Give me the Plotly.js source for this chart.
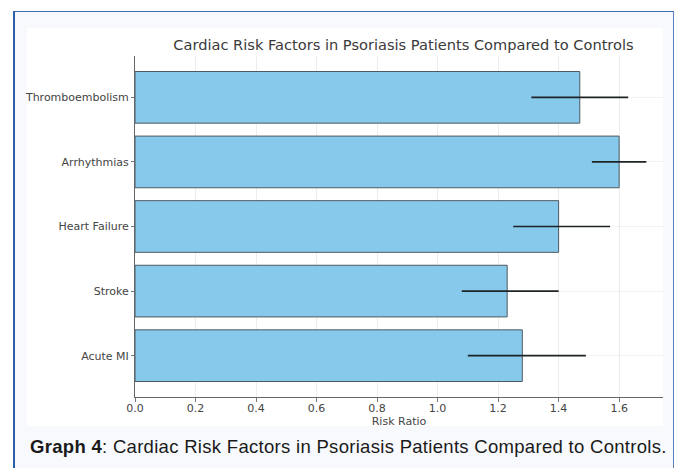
<!DOCTYPE html>
<html>
<head>
<meta charset="utf-8">
<script src="https://cdn.plot.ly/plotly-3.0.1.min.js"></script>
<style>
  html, body { margin: 0; padding: 0; background: #ffffff; width: 677px; height: 468px; overflow: hidden; }
  #frame { position: absolute; left: 13px; top: 11px; width: 658px; height: 470px;
           border-left: 2px solid #2c5ea7; border-top: 1px solid #3d6bb0; border-right: 1px solid #5b82bd;
           background: #f7f9fc; }
  #chartbg { position: absolute; left: 27px; top: 28px; width: 636px; height: 398px; background: #ffffff; }
  #plot { position: absolute; left: 0; top: 0; width: 677px; height: 468px; }
  #caption { position: absolute; left: 30px; top: 436px; font-family: "Liberation Sans", Arial, sans-serif;
             font-size: 18.5px; letter-spacing: 0.3px; color: #1a1a1a; white-space: nowrap; }
</style>
</head>
<body>
<div id="frame"></div>
<div id="chartbg"></div>
<div id="plot"></div>
<div id="caption"><b>Graph 4</b>: Cardiac Risk Factors in Psoriasis Patients Compared to Controls.</div>
<script>
const categories = ["Acute MI", "Stroke", "Heart Failure", "Arrhythmias", "Thromboembolism"];
const riskRatio  = [1.28, 1.23, 1.40, 1.60, 1.47];
const ciLower    = [1.10, 1.08, 1.25, 1.51, 1.31];
const ciUpper    = [1.49, 1.40, 1.57, 1.69, 1.63];
const xTicks     = [0, 0.2, 0.4, 0.6, 0.8, 1.0, 1.2, 1.4, 1.6];
const xTickText  = ["0.0", "0.2", "0.4", "0.6", "0.8", "1.0", "1.2", "1.4", "1.6"];

const errPlus  = riskRatio.map((v, i) => ciUpper[i] - v);
const errMinus = riskRatio.map((v, i) => v - ciLower[i]);

const trace = {
  type: "bar",
  orientation: "h",
  y: categories,
  x: riskRatio,
  width: 0.8,
  marker: { color: "#86c9ea", line: { color: "#4d5a63", width: 1 } },
  error_x: { type: "data", symmetric: false, array: errPlus, arrayminus: errMinus,
             color: "#1e2326", thickness: 1.6, width: 0 },
  hoverinfo: "skip"
};

const tickFont = { family: "DejaVu Sans, sans-serif", size: 11, color: "#444" };

const layout = {
  width: 677, height: 468,
  margin: { l: 135, r: 14, t: 56, b: 71, pad: 0 },
  paper_bgcolor: "rgba(0,0,0,0)",
  plot_bgcolor: "rgba(0,0,0,0)",
  showlegend: false,
  title: { text: "Cardiac Risk Factors in Psoriasis Patients Compared to Controls",
           font: { family: "DejaVu Sans, sans-serif", size: 14.6, color: "#3a3a3a" },
           x: 0.596, xanchor: "center", y: 0.905, yanchor: "middle" },
  xaxis: {
    range: [0, 1.745],
    tickvals: xTicks, ticktext: xTickText,
    ticks: "outside", ticklen: 4, tickcolor: "#777", tickwidth: 1,
    ticklabelstandoff: -3,
    showline: true, linecolor: "#666", linewidth: 1,
    showgrid: true, gridcolor: "rgba(0,0,0,0.07)", gridwidth: 1,
    zeroline: false,
    tickfont: tickFont,
    title: { text: "Risk Ratio", font: { family: "DejaVu Sans, sans-serif", size: 11, color: "#444" }, standoff: 0 },
    layer: "above traces",
    fixedrange: true
  },
  yaxis: {
    range: [-0.64, 4.64],
    ticks: "outside", ticklen: 3, tickcolor: "#777", tickwidth: 1,
    showline: true, linecolor: "#666", linewidth: 1,
    showgrid: true, gridcolor: "rgba(0,0,0,0.05)", gridwidth: 1,
    zeroline: false,
    tickfont: tickFont,
    layer: "above traces",
    fixedrange: true
  }
};

Plotly.newPlot("plot", [trace], layout, { displayModeBar: false, staticPlot: true });
</script>
</body>
</html>
